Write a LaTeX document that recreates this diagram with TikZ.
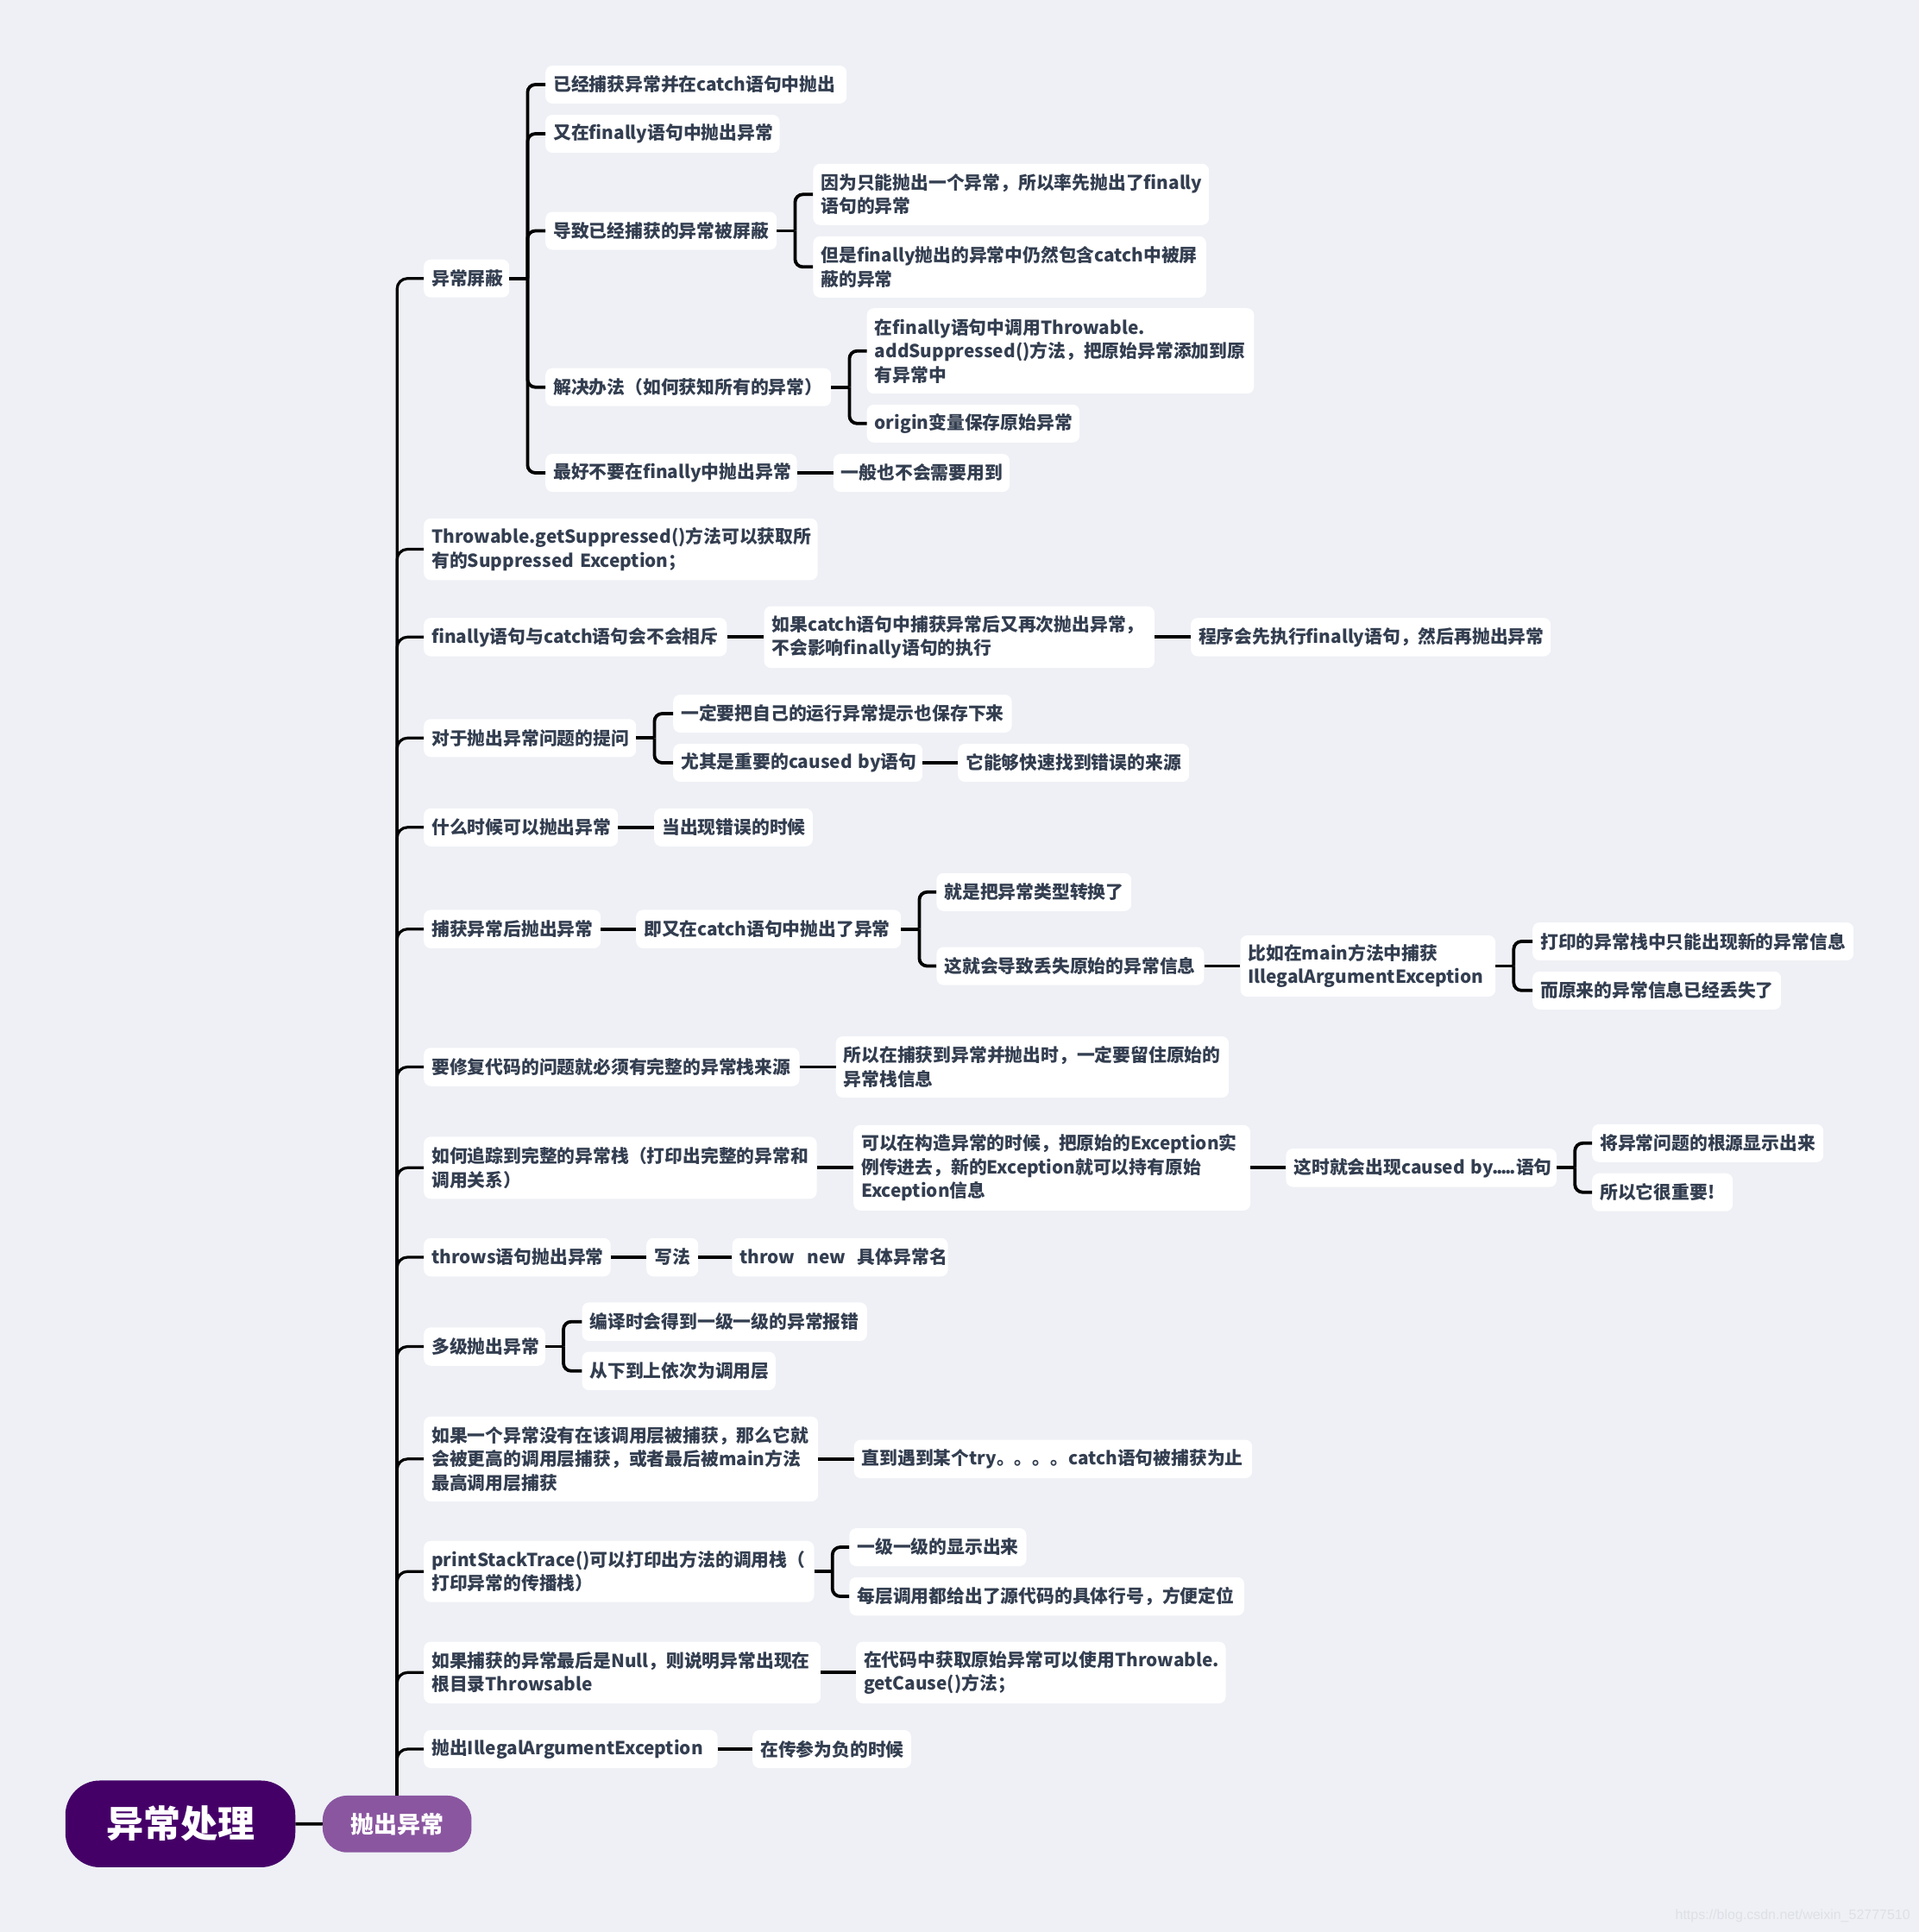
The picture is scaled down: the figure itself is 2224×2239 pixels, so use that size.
\documentclass[tikz,border=0pt]{standalone}
\usepackage{fontspec}
\setmainfont{Noto Sans CJK SC}
\newfontfamily\wmfont{Liberation Sans}
\hyphenpenalty=10000 \exhyphenpenalty=10000 \uchyph=0
\definecolor{bgc}{RGB}{238,240,245}
\definecolor{txt}{RGB}{51,62,80}
\definecolor{rootc}{RGB}{69,0,104}
\definecolor{subc}{RGB}{138,86,160}
\definecolor{wmc}{RGB}{222,224,231}
\newcommand\mbx[6]{\node[box,text width=#4pt,minimum height=#5pt,anchor=west] (#1) at (#2,#3) {#6};}
\newcommand\tdot{.\kern-2.2pt}
\begin{document}
\begin{tikzpicture}[x=1pt,y=-1pt,
  box/.style={fill=white,rounded corners=8pt,inner xsep=9pt,inner ysep=0pt,align=left,text=txt,
    font=\bfseries\fontsize{20.8pt}{27.5pt}\selectfont},
  conn/.style={draw=black,line width=3.8pt},
  trunkc/.style={draw=black,line width=3.2pt,rounded corners=12pt},
  brc/.style={draw=black,line width=3.8pt,rounded corners=9pt}]
\fill[bgc] (0,0) rectangle (2224,2239);
\useasboundingbox (0,0) rectangle (2224,2239);

% root and first level
\node[fill=rootc,rounded corners=40pt,minimum width=266.5pt,minimum height=100.5pt,text=white,
  font=\bfseries\fontsize{43pt}{43pt}\selectfont,inner sep=0pt] (R) at (209,2113.7) {异常处理};
\node[fill=subc,rounded corners=28pt,minimum width=172.5pt,minimum height=65.7pt,text=white,
  font=\bfseries\fontsize{27pt}{27pt}\selectfont,inner sep=0pt] (T) at (460.2,2113.8) {抛出异常};

% second level
\mbx{A1}{491}{322.7}{81}{44}{异常屏蔽}
\mbx{A2}{491}{636.5}{438.4}{71.5}{Throwable.getSuppressed()方法可以获取所\\有的Suppressed~Exception；}
\mbx{A3}{491}{738.3}{333.1}{44.5}{finally语句与catch语句会不会相斥}
\mbx{A4}{491}{855.3}{228}{44}{对于抛出异常问题的提问}
\mbx{A5}{491}{958.8}{207}{44}{什么时候可以抛出异常}
\mbx{A6}{491}{1076.7}{187}{44.5}{捕获异常后抛出异常}
\mbx{A7}{491}{1236.5}{417.3}{44.5}{要修复代码的问题就必须有完整的异常栈来源}
\mbx{A8}{491}{1353.3}{437.4}{72}{如何追踪到完整的异常栈（打印出完整的异常和\\调用关系）}
\mbx{A9}{491}{1457}{198.5}{44.5}{throws语句抛出异常}
\mbx{A10}{491}{1560.5}{122.6}{44.5}{多级抛出异常}
\mbx{A11}{491}{1690.8}{439}{98.5}{如果一个异常没有在该调用层被捕获，那么它就\\会被更高的调用层捕获，或者最后被main方法\\最高调用层捕获}
\mbx{A12}{491}{1821.2}{434.3}{71}{printStackTrace()可以打印出方法的调用栈（\\打印异常的传播栈）}
\mbx{A13}{491}{1938.3}{442}{71.5}{如果捕获的异常最后是Null，则说明异常出现在\\根目录Throwsable}
\mbx{A14}{491}{2027}{322.3}{44}{抛出IllegalArgumentException}

% deeper levels
\mbx{B1}{632}{98}{331}{44}{已经捕获异常并在catch语句中抛出}
\mbx{B2}{632}{155}{253.3}{44}{又在finally语句中抛出异常}
\mbx{B3}{632}{267.5}{250}{44}{导致已经捕获的异常被屏蔽}
\mbx{B4}{632}{448.7}{313}{44}{解决办法（如何获知所有的异常）}
\mbx{B5}{632}{548}{273.3}{44}{最好不要在finally中抛出异常}
\mbx{C1}{942.2}{225.3}{440.7}{71}{因为只能抛出一个异常，所以率先抛出了finally\\语句的异常}
\mbx{C2}{942.2}{309.3}{437.4}{71}{但是finally抛出的异常中仍然包含catch中被屏\\蔽的异常}
\mbx{C3}{1004.5}{406.7}{430.6}{99}{在finally语句中调用Throwable.\\addSuppressed()方法，把原始异常添加到原\\有异常中}
\mbx{C4}{1004.5}{490.8}{228.4}{44}{origin变量保存原始异常}
\mbx{C5}{965.6}{548}{186.3}{44}{一般也不会需要用到}
\mbx{D1}{885.3}{738.3}{434.5}{71.5}{如果catch语句中捕获异常后又再次抛出异常，\\不会影响finally语句的执行}
\mbx{D2}{1379.9}{738.3}{399.1}{44.5}{程序会先执行finally语句，然后再抛出异常}
\mbx{E1}{780}{827}{374.3}{44}{一定要把自己的运行异常提示也保存下来}
\mbx{E2}{780}{884}{271}{44}{尤其是重要的caused~by语句}
\mbx{E3}{1110}{884}{250}{44}{它能够快速找到错误的来源}
\mbx{F1}{758}{958.8}{165.7}{44}{当出现错误的时候}
\mbx{G1}{737}{1076.7}{289}{44.5}{即又在catch语句中抛出了异常}
\mbx{G2}{1085.2}{1033.8}{207.8}{44}{就是把异常类型转换了}
\mbx{G3}{1085.2}{1119.5}{292}{44}{这就会导致丢失原始的异常信息}
\mbx{G4}{1437.3}{1119.5}{277.6}{71}{比如在main方法中捕获\\IllegalArgumentException}
\mbx{G5}{1776}{1091}{354}{44}{打印的异常栈中只能出现新的异常信息}
\mbx{G6}{1776}{1147.8}{270}{44}{而原来的异常信息已经丢失了}
\mbx{H1}{968.5}{1236.5}{437.4}{71}{所以在捕获到异常并抛出时，一定要留住原始的\\异常栈信息}
\mbx{I1}{989}{1353.3}{441.9}{99}{可以在构造异常的时候，把原始的Exception实\\例传进去，新的Exception就可以持有原始\\Exception信息}
\mbx{I2}{1490.2}{1353.3}{295.6}{44.5}{这时就会出现caused~by\tdot\tdot\tdot\tdot.语句}
\mbx{I3}{1845}{1324.8}{250}{44}{将异常问题的根源显示出来}
\mbx{I4}{1845}{1381.7}{145}{44}{所以它很重要!}
\mbx{J1}{749}{1457}{42}{44.5}{写法}
\mbx{J2}{848.4}{1457}{232}{44.5}{throw~~new~~具体异常名}
\mbx{K1}{674.3}{1531.7}{312.4}{44.5}{编译时会得到一级一级的异常报错}
\mbx{K2}{674.3}{1588.8}{206.4}{44.5}{从下到上依次为调用层}
\mbx{L1}{989.5}{1690.8}{443.5}{44.5}{直到遇到某个try。。。。catch语句被捕获为止}
\mbx{M1}{984.2}{1793}{187.1}{44}{一级一级的显示出来}
\mbx{M2}{984.2}{1850}{439.6}{44.5}{每层调用都给出了源代码的具体行号，方便定位}
\mbx{N1}{991.8}{1938.3}{410.6}{71.5}{在代码中获取原始异常可以使用Throwable.\\getCause()方法；}
\mbx{O1}{872}{2027}{165.8}{44}{在传参为负的时候}

% connectors
\draw[conn] (R.east) -- (T.west);
\foreach \n in {A1,A2,A3,A4,A5,A6,A7,A8,A9,A10,A11,A12,A13,A14}
  \draw[trunkc] (T.north) |- (\n.west);

\draw[conn] (A1.east) -- ++(21,0) coordinate (jA1);
\foreach \n in {B1,B2,B3,B4,B5} \draw[brc] (jA1) |- (\n.west);
\draw[conn] (B3.east) -- ++(21,0) coordinate (jB3);
\foreach \n in {C1,C2} \draw[brc] (jB3) |- (\n.west);
\draw[conn] (B4.east) -- ++(21,0) coordinate (jB4);
\foreach \n in {C3,C4} \draw[brc] (jB4) |- (\n.west);
\draw[conn] (B5.east) -- (C5.west);

\draw[conn] (A3.east) -- (D1.west);
\draw[conn] (D1.east) -- (D2.west);

\draw[conn] (A4.east) -- ++(21,0) coordinate (jA4);
\foreach \n in {E1,E2} \draw[brc] (jA4) |- (\n.west);
\draw[conn] (E2.east) -- (E3.west);

\draw[conn] (A5.east) -- (F1.west);

\draw[conn] (A6.east) -- (G1.west);
\draw[conn] (G1.east) -- ++(21,0) coordinate (jG1);
\foreach \n in {G2,G3} \draw[brc] (jG1) |- (\n.west);
\draw[conn] (G3.east) -- (G4.west);
\draw[conn] (G4.east) -- ++(21,0) coordinate (jG4);
\foreach \n in {G5,G6} \draw[brc] (jG4) |- (\n.west);

\draw[conn] (A7.east) -- (H1.west);

\draw[conn] (A8.east) -- (I1.west);
\draw[conn] (I1.east) -- (I2.west);
\draw[conn] (I2.east) -- ++(21,0) coordinate (jI2);
\foreach \n in {I3,I4} \draw[brc] (jI2) |- (\n.west);

\draw[conn] (A9.east) -- (J1.west);
\draw[conn] (J1.east) -- (J2.west);

\draw[conn] (A10.east) -- ++(21,0) coordinate (jA10);
\foreach \n in {K1,K2} \draw[brc] (jA10) |- (\n.west);

\draw[conn] (A11.east) -- (L1.west);

\draw[conn] (A12.east) -- ++(21,0) coordinate (jA12);
\foreach \n in {M1,M2} \draw[brc] (jA12) |- (\n.west);

\draw[conn] (A13.east) -- (N1.west);
\draw[conn] (A14.east) -- (O1.west);

% watermark
\node[anchor=east,text=wmc,font=\wmfont\fontsize{16pt}{16pt}\selectfont,inner sep=0pt] (wm) at (2214,2220) {https://blog.csdn.net/weixin\_52777510};
\end{tikzpicture}
\end{document}
